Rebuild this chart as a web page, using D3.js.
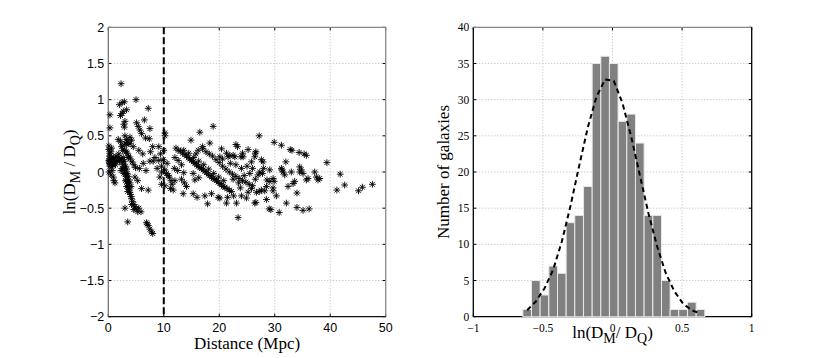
<!DOCTYPE html>
<html>
<head>
<meta charset="utf-8">
<script src="https://cdn.jsdelivr.net/npm/d3@7"></script>
<style>
  body { margin: 0; background: #fff; }
  svg { display: block; }
</style>
</head>
<body>
<svg id="chart" width="830" height="358"></svg>
<script>
// ---- data ----

// Left panel: distance (Mpc) vs ln(D_M / D_Q)
var galaxies = [
  // nearby blob, D < 2.5 Mpc
  [0.1,0.16],[0.2,0.12],[0.3,0.18],[0.4,0.1],[0.5,0.15],[0.6,0.12],[0.7,0.17],[0.8,0.1],[0.9,0.14],[1.0,0.18],
  [1.1,0.12],[1.2,0.15],[0.3,0.08],[0.6,0.07],[0.9,0.2],[0.2,0.22],[0.5,0.2],[1.3,0.1],[0.15,0.14],[0.75,0.13],
  [0.3,0.79],[0.3,0.61],[0.12,0.36],[0.48,0.28],[0.3,0.26],[0.1,0.31],[0.6,0.33],
  [0.12,0.0],[0.7,0.02],[0.9,-0.07],[1.2,-0.15],[0.5,-0.04],[1.0,-0.12],
  [1.8,0.2],[2.0,0.14],[1.9,0.25],[2.1,0.18],[2.3,0.02],[1.6,0.16],[1.4,0.22],
  // upper scatter, 1.5 - 8 Mpc
  [2.3,1.22],[5.0,1.0],[2.0,0.93],[2.5,0.96],[2.9,0.97],[3.3,0.86],[2.2,0.78],[2.5,0.81],[2.7,0.84],[7.2,0.88],
  [6.5,0.72],[2.8,0.66],[3.0,0.7],[2.9,0.62],[5.1,0.68],[5.4,0.63],[5.7,0.58],[6.0,0.53],[6.7,0.47],[7.4,0.46],
  [7.5,0.6],[1.8,0.45],[3.0,0.5],[3.3,0.45],[3.9,0.48],[4.2,0.44],[3.6,0.41],[3.9,0.39],[3.0,0.4],[3.3,0.38],
  [4.5,0.35],[8.0,0.35],[7.6,0.28],[2.4,0.35],[2.6,0.3],[5.5,0.3],[6.2,0.25],
  // steep streak 2.4 - 5.5 Mpc
  [2.4,0.18],[2.6,0.14],[2.7,0.1],[2.8,0.07],[2.9,0.04],[3.0,0.0],[3.1,-0.03],[3.2,-0.06],[3.3,-0.1],[3.4,-0.13],
  [3.5,-0.16],[3.6,-0.19],[3.7,-0.22],[3.8,-0.25],[3.9,-0.28],[4.0,-0.31],[4.1,-0.34],[4.2,-0.37],[4.4,-0.41],[4.6,-0.45],
  [4.8,-0.48],[5.0,-0.51],[5.3,-0.55],
  [2.7,0.2],[2.9,0.15],[3.1,0.08],[3.3,0.04],[3.4,-0.02],[3.6,-0.06],[3.7,-0.11],[3.9,-0.15],[4.1,-0.2],[2.5,0.05],
  [2.8,-0.02],[3.1,-0.12],[3.3,-0.2],[3.5,-0.27],
  [2.2,0.42],[2.6,0.36],[3.0,0.3],[3.4,0.26],[3.7,0.22],[4.0,0.18],[4.3,0.14],[4.6,0.1],[4.9,0.06],[3.2,0.28],[3.6,0.2],
  [3.0,-0.5],[3.5,-0.69],[5.9,-0.55],[4.2,-0.45],[4.6,-0.52],[5.5,-0.5],[4.8,-0.07],[5.3,-0.12],[6.0,-0.23],[7.2,-0.25],
  [5.6,0.05],[6.3,0.12],[6.8,0.02],[7.5,0.15],[8.4,0.2],[8.1,0.15],
  [6.9,-0.7],[7.2,-0.74],[7.5,-0.79],[7.8,-0.83],[8.0,-0.85],[7.0,-0.72],
  // around the 10 Mpc cut
  [9.1,0.35],[9.4,0.25],[9.1,0.16],[9.9,0.17],[9.6,0.08],[10.2,0.03],[10.5,-0.02],[10.8,-0.05],[9.6,0.0],[9.6,-0.17],
  [10.2,-0.19],[11.0,-0.07],[11.3,-0.12],[11.5,-0.17],[11.2,-0.23],[12.0,-0.12],[11.7,-0.25],[10.2,0.54],[10.2,0.5],[10.0,0.3],
  [8.8,0.05],[9.3,-0.07],[10.6,0.12],[11.9,0.05],
  // 12 - 20 Mpc scatter
  [12.0,0.2],[12.6,0.16],[13.2,0.1],[12.5,0.02],[13.6,-0.01],[13.2,-0.1],[13.7,-0.15],[14.1,-0.2],[15.3,-0.02],[15.6,-0.11],
  [16.3,-0.08],[13.5,-0.3],[15.3,-0.3],[16.0,-0.35],[17.4,-0.33],[18.6,-0.3],[19.8,-0.35],[17.9,-0.44],[14.9,0.44],[16.5,0.55],
  [18.9,0.63],[18.3,0.4],[20.4,0.32],[17.0,0.35],[16.2,0.3],[15.8,0.25],
  // main streak 12 - 22 Mpc
  [12.2,0.33],[12.6,0.3],[13.0,0.29],[13.4,0.26],[13.8,0.24],[14.1,0.22],[14.4,0.2],[14.7,0.18],[15.0,0.16],[15.3,0.14],
  [15.6,0.12],[15.9,0.1],[16.2,0.08],[16.5,0.06],[16.8,0.05],[17.1,0.03],[17.4,0.01],[17.7,-0.01],[18.0,-0.03],[18.3,-0.05],
  [18.6,-0.07],[18.9,-0.09],[19.2,-0.1],[19.5,-0.12],[19.8,-0.14],[20.1,-0.16],[20.4,-0.18],[20.7,-0.2],[21.0,-0.21],[21.4,-0.23],
  [21.8,-0.25],[22.2,-0.27],
  [13.6,0.3],[14.5,0.26],[15.4,0.2],[16.3,0.15],[17.2,0.1],[18.1,0.04],[19.0,-0.02],[19.9,-0.07],[20.8,-0.12],
  // second streak 17 - 26 Mpc
  [17.0,0.32],[17.6,0.28],[18.2,0.25],[18.8,0.22],[19.4,0.17],[20.0,0.13],[20.6,0.08],[21.2,0.04],[21.8,0.0],[22.4,-0.03],
  [23.0,-0.06],[23.6,-0.09],[24.2,-0.12],[24.8,-0.14],[25.4,-0.17],[26.0,-0.19],
  // outer scatter, > 20 Mpc
  [27.2,0.5],[29.9,0.41],[31.2,0.37],[32.8,0.31],[33.1,0.3],[34.4,0.27],[35.3,0.25],[35.7,0.23],[39.4,0.13],[41.8,-0.03],
  [41.2,-0.25],[42.6,-0.18],[45.1,-0.26],[45.8,-0.21],[47.6,-0.17],[32.0,0.14],[31.2,0.05],[31.5,0.0],[31.3,0.03],[31.8,-0.04],
  [33.0,0.0],[34.5,0.07],[34.8,0.03],[35.1,-0.02],[34.5,0.0],[36.0,-0.09],[35.7,-0.11],[37.5,-0.07],[37.8,-0.11],[38.1,-0.09],
  [37.2,0.0],[33.6,-0.13],[33.3,-0.16],[32.4,-0.2],[34.0,-0.29],[32.1,-0.43],[34.0,-0.49],[35.1,-0.53],[36.2,-0.51],[29.0,-0.51],
  [29.3,-0.52],[30.8,-0.56],[23.4,-0.63],[26.6,-0.42],[26.4,-0.43],[28.5,-0.38],[29.1,0.03],[29.7,-0.09],[29.9,-0.13],[29.7,-0.22],
  [29.7,-0.26],[30.3,-0.33],[27.6,-0.25],[27.2,-0.27],[26.7,-0.28],[28.2,-0.26],[25.8,-0.23],[24.9,-0.36],[24.0,-0.33],[23.1,-0.43],
  [21.3,-0.43],[20.1,-0.36],[28.6,-0.11],[29.1,-0.13],[27.3,0.0],[27.0,-0.04],[27.8,-0.02],[26.5,0.26],[26.4,0.21],[26.6,0.28],
  [27.6,0.17],[27.9,0.14],[25.8,0.14],[25.2,0.31],[24.2,0.26],[23.9,0.21],[24.3,0.21],[23.0,0.38],[23.3,0.35],[21.3,0.26],
  [21.6,0.21],[21.9,0.23],[22.5,0.23],[22.8,0.21],[20.1,0.21],[20.6,0.18],
  [22.5,-0.1],[23.5,-0.15],[24.5,-0.05],[25.5,-0.02],[26.0,0.05],[24.0,0.05],[23.0,0.1],[22.0,0.12],[25.0,0.08],[28.0,0.05],
  [28.5,-0.2],[26.5,-0.1],[25.2,-0.28],[23.8,-0.22],[22.6,-0.33],[21.5,-0.35]
];
var cutDistance = 10;

// Right panel: histogram of ln(D_M / D_Q) with gaussian fit
var binCenters = [-0.613,-0.551,-0.489,-0.426,-0.364,-0.302,-0.240,-0.177,-0.115,-0.053,0.009,
                  0.072,0.134,0.196,0.258,0.321,0.383,0.445,0.507,0.570,0.632];
var binCounts  = [1,5,3,7,6,13,14,18,35,36,35,27,28,24,14,14,5,1,1,2,1];
var fitCounts  = [0.9,2.1,3.9,6.5,10.4,15.3,20.8,26.2,30.4,32.8,32.6,29.5,24.9,19.6,14.3,9.7,6.0,3.5,1.8,0.9,0.4];

var leftXTicks = [0,10,20,30,40,50];
var leftYTicks = [-2,-1.5,-1,-0.5,0,0.5,1,1.5,2];
var rightXTicks = [-1,-0.5,0,0.5,1];
var rightYTicks = [0,5,10,15,20,25,30,35,40];

// ---- layout ----
var svg = d3.select("#chart");
var plotTop = 27.3, plotBottom = 316.7;
var sans = "'Liberation Sans', Arial, sans-serif";
var serif = "'Liberation Serif', 'Times New Roman', serif";
var tickLen = 3;

var xL = d3.scaleLinear().domain([0, 50]).range([108.3, 385.7]);
var yL = d3.scaleLinear().domain([-2, 2]).range([plotBottom, plotTop]);
var xR = d3.scaleLinear().domain([-1, 1]).range([473.3, 751.7]);
var yR = d3.scaleLinear().domain([0, 40]).range([plotBottom, plotTop]);

// dotted grid, inward ticks on all four sides, box
function drawFrame(x, y, xt, yt, font, fontSize, fmt, edgeColors) {
    var g = svg.append("g");
    var x0 = x.range()[0], x1 = x.range()[1];

    g.selectAll(".gx").data(xt.slice(1, -1)).enter().append("line")
        .attr("x1", function (d) { return x(d); }).attr("x2", function (d) { return x(d); })
        .attr("y1", plotTop).attr("y2", plotBottom)
        .attr("stroke", "#b8b8b8").attr("stroke-dasharray", "1,2");
    g.selectAll(".gy").data(yt.slice(1, -1)).enter().append("line")
        .attr("y1", function (d) { return y(d); }).attr("y2", function (d) { return y(d); })
        .attr("x1", x0).attr("x2", x1)
        .attr("stroke", "#b8b8b8").attr("stroke-dasharray", "1,2");

    // ticks
    xt.forEach(function (d) {
        g.append("line").attr("x1", x(d)).attr("x2", x(d)).attr("y1", plotBottom).attr("y2", plotBottom - tickLen).attr("stroke", "#000");
        g.append("line").attr("x1", x(d)).attr("x2", x(d)).attr("y1", plotTop).attr("y2", plotTop + tickLen).attr("stroke", "#000");
    });
    yt.forEach(function (d) {
        g.append("line").attr("y1", y(d)).attr("y2", y(d)).attr("x1", x0).attr("x2", x0 + tickLen).attr("stroke", "#000");
        g.append("line").attr("y1", y(d)).attr("y2", y(d)).attr("x1", x1).attr("x2", x1 - tickLen).attr("stroke", "#000");
    });

    // box edges: left, top, right, bottom
    g.append("line").attr("x1", x0).attr("x2", x0).attr("y1", plotTop).attr("y2", plotBottom).attr("stroke", edgeColors[0]).attr("stroke-width", 1.3);
    g.append("line").attr("x1", x0).attr("x2", x1).attr("y1", plotTop).attr("y2", plotTop).attr("stroke", edgeColors[1]).attr("stroke-width", 1.3);
    g.append("line").attr("x1", x1).attr("x2", x1).attr("y1", plotTop).attr("y2", plotBottom).attr("stroke", edgeColors[2]).attr("stroke-width", 1.3);
    g.append("line").attr("x1", x0).attr("x2", x1).attr("y1", plotBottom).attr("y2", plotBottom).attr("stroke", edgeColors[3]).attr("stroke-width", 1.3);

    // tick labels
    g.selectAll(".lx").data(xt).enter().append("text")
        .attr("x", function (d) { return x(d); }).attr("y", plotBottom + 15.5)
        .attr("text-anchor", "middle")
        .style("font-family", font).style("font-size", fontSize + "px")
        .text(fmt);
    g.selectAll(".ly").data(yt).enter().append("text")
        .attr("x", x0 - 4).attr("y", function (d) { return y(d) + fontSize * 0.36; })
        .attr("text-anchor", "end")
        .style("font-family", font).style("font-size", fontSize + "px")
        .text(fmt);
    return g;
}

var fmt = function (d) { return d3.format("")(d).replace("-", "\u2212"); };

// ---- left panel ----
drawFrame(xL, yL, leftXTicks, leftYTicks, sans, 12.5, fmt, ["#777", "#888", "#888", "#111"]);

// vertical dashed cut at 10 Mpc
svg.append("line")
    .attr("x1", xL(cutDistance)).attr("x2", xL(cutDistance))
    .attr("y1", yL(2)).attr("y2", yL(-2))
    .attr("stroke", "#000").attr("stroke-width", 2).attr("stroke-dasharray", "7,3");

// asterisk markers
function asterisk(r) {
    var d = r * 0.7071;
    return "M" + (-r) + ",0H" + r + "M0," + (-r) + "V" + r +
        "M" + (-d) + "," + (-d) + "L" + d + "," + d +
        "M" + (-d) + "," + d + "L" + d + "," + (-d);
}
svg.append("g").selectAll("path").data(galaxies).enter().append("path")
    .attr("transform", function (d) { return "translate(" + xL(d[0]) + "," + yL(d[1]) + ")"; })
    .attr("d", asterisk(3.4))
    .attr("fill", "none").attr("stroke", "#000").attr("stroke-width", 0.9);

// axis labels
svg.append("text")
    .attr("x", (xL.range()[0] + xL.range()[1]) / 2).attr("y", 349)
    .attr("text-anchor", "middle")
    .style("font-family", serif).style("font-size", "17px")
    .text("Distance (Mpc)");

function ratioLabel(sel, spaced) {
    sel.append("tspan").text("ln(D");
    sel.append("tspan").attr("dy", 5).style("font-size", "14px").text("M");
    sel.append("tspan").attr("dy", -5).text(spaced ? " / D" : "/ D");
    sel.append("tspan").attr("dy", 5).style("font-size", "14px").text("Q");
    sel.append("tspan").attr("dy", -5).text(")");
}
svg.append("text")
    .attr("transform", "translate(75," + yL(0) + ") rotate(-90)")
    .attr("text-anchor", "middle")
    .style("font-family", serif).style("font-size", "17px")
    .call(ratioLabel, true);

// ---- right panel ----
drawFrame(xR, yR, rightXTicks, rightYTicks, serif, 11.5, fmt, ["#000", "#888", "#000", "#000"]);

var step = xR(binCenters[1]) - xR(binCenters[0]);
svg.append("g").selectAll("rect").data(binCenters).enter().append("rect")
    .attr("x", function (d) { return xR(d) - step / 2; })
    .attr("width", step)
    .attr("y", function (d, i) { return yR(binCounts[i]); })
    .attr("height", function (d, i) { return yR(0) - yR(binCounts[i]); })
    .attr("fill", "#808080").attr("stroke", "#e8e8e8").attr("stroke-width", 1);

var fitLine = d3.line()
    .x(function (d) { return xR(d); })
    .y(function (d, i) { return yR(fitCounts[i]); });
svg.append("path")
    .attr("d", fitLine(binCenters))
    .attr("fill", "none").attr("stroke", "#000").attr("stroke-width", 2)
    .attr("stroke-dasharray", "5,3.5");

svg.append("text")
    .attr("x", (xR.range()[0] + xR.range()[1]) / 2).attr("y", 338)
    .attr("text-anchor", "middle")
    .style("font-family", serif).style("font-size", "17px")
    .call(ratioLabel, false);

svg.append("text")
    .attr("transform", "translate(449," + yR(20) + ") rotate(-90)")
    .attr("text-anchor", "middle")
    .style("font-family", serif).style("font-size", "17px")
    .text("Number of galaxies");
</script>
</body>
</html>
